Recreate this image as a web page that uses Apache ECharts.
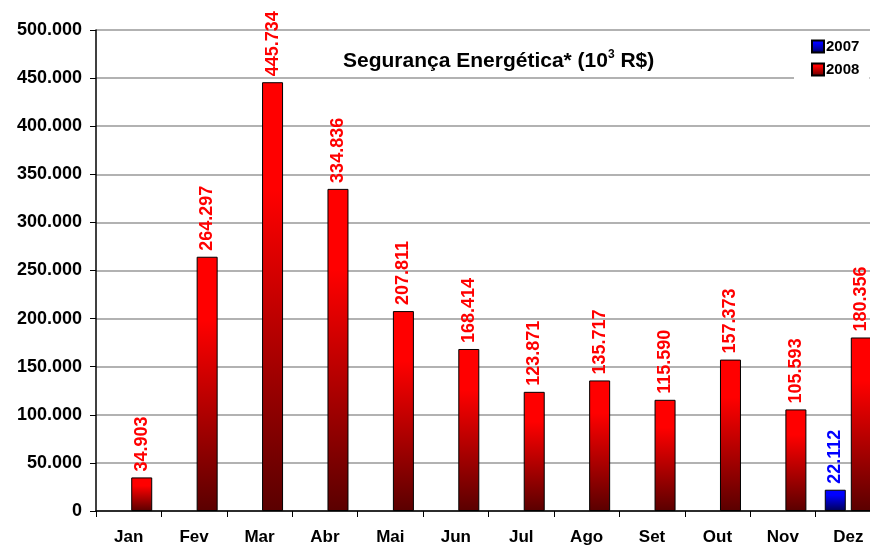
<!DOCTYPE html>
<html>
<head>
<meta charset="utf-8">
<script src="https://cdn.jsdelivr.net/npm/echarts@6/dist/echarts.min.js"></script>
<style>
  html, body { margin: 0; padding: 0; background: #fff; }
  #main { width: 870px; height: 546px; }
</style>
</head>
<body>
<div id="main"></div>
<script>
// dados
var meses = ['Jan', 'Fev', 'Mar', 'Abr', 'Mai', 'Jun', 'Jul', 'Ago', 'Set', 'Out', 'Nov', 'Dez'];
var valores2007 = [null, null, null, null, null, null, null, null, null, null, null, 22112];
var valores2008 = [34903, 264297, 445734, 334836, 207811, 168414, 123871, 135717, 115590, 157373, 105593, 180356];
var eixoY = { min: 0, max: 500000, interval: 50000 };

var fonte = 'Arial, "Liberation Sans", sans-serif';

function milhar(n) {
  return String(n).replace(/\B(?=(\d{3})+(?!\d))/g, '.');
}

function gradiente(topo, base) {
  return new echarts.graphic.LinearGradient(0, 0, 0, 1, [
    { offset: 0, color: topo },
    { offset: 0.25, color: topo },
    { offset: 1, color: base }
  ]);
}

var myChart = echarts.init(document.getElementById('main'));

myChart.setOption({
  backgroundColor: '#fff',
  animation: false,
  title: {
    text: '{a|Segurança Energética* (10}{s|3}{a| R$)}',
    left: 338,
    top: 44,
    textStyle: {
      rich: {
        a: { fontFamily: fonte, fontSize: 21, fontWeight: 'bold', color: '#000' },
        s: { fontFamily: fonte, fontSize: 12, fontWeight: 'bold', color: '#000', verticalAlign: 'top', padding: [0, 0, 12, 0] }
      }
    }
  },
  legend: {
    orient: 'vertical',
    left: 794,
    top: 35,
    width: 80,
    padding: [4, 10, 6, 17],
    backgroundColor: '#fff',
    icon: 'rect',
    itemWidth: 12,
    itemHeight: 12,
    itemGap: 8,
    textStyle: { fontFamily: fonte, fontSize: 15, fontWeight: 'bold', color: '#000', padding: [0, 0, 0, -3] },
    data: ['2007', '2008']
  },
  grid: {
    left: 96,
    top: 30,
    width: 785,
    bottom: 35,
    outerBoundsMode: 'none'
  },
  xAxis: {
    type: 'category',
    data: meses,
    axisLine: { lineStyle: { color: '#000', width: 1.5 } },
    axisTick: { show: true, length: 6, lineStyle: { color: '#000' } },
    axisLabel: { fontFamily: fonte, fontSize: 17, fontWeight: 'bold', color: '#000', margin: 18 }
  },
  yAxis: {
    type: 'value',
    min: eixoY.min,
    max: eixoY.max,
    interval: eixoY.interval,
    axisLine: { show: true, lineStyle: { color: '#000', width: 1.5 } },
    axisTick: { show: true, length: 6, lineStyle: { color: '#000' } },
    axisLabel: {
      fontFamily: fonte, fontSize: 18, fontWeight: 'bold', color: '#000', margin: 14,
      formatter: function (v) { return milhar(v); }
    },
    splitLine: { show: true, lineStyle: { color: '#999', width: 1.5 } }
  },
  series: [
    {
      name: '2007',
      type: 'bar',
      data: valores2007,
      barWidth: 21,
      barGap: '24%',
      itemStyle: { color: gradiente('#0000ff', '#000055'), borderColor: '#000', borderWidth: 1 },
      label: {
        show: true, position: 'top', rotate: 90, align: 'left', verticalAlign: 'middle', distance: 6,
        fontFamily: fonte, fontSize: 18, fontWeight: 'bold', color: '#0000ff',
        formatter: function (p) { return milhar(p.value); }
      }
    },
    {
      name: '2008',
      type: 'bar',
      data: valores2008,
      barWidth: 21,
      itemStyle: { color: gradiente('#ff0000', '#5a0000'), borderColor: '#000', borderWidth: 1 },
      label: {
        show: true, position: 'top', rotate: 90, align: 'left', verticalAlign: 'middle', distance: 6,
        fontFamily: fonte, fontSize: 18, fontWeight: 'bold', color: '#ff0000',
        formatter: function (p) { return milhar(p.value); }
      }
    }
  ]
});
</script>
</body>
</html>
